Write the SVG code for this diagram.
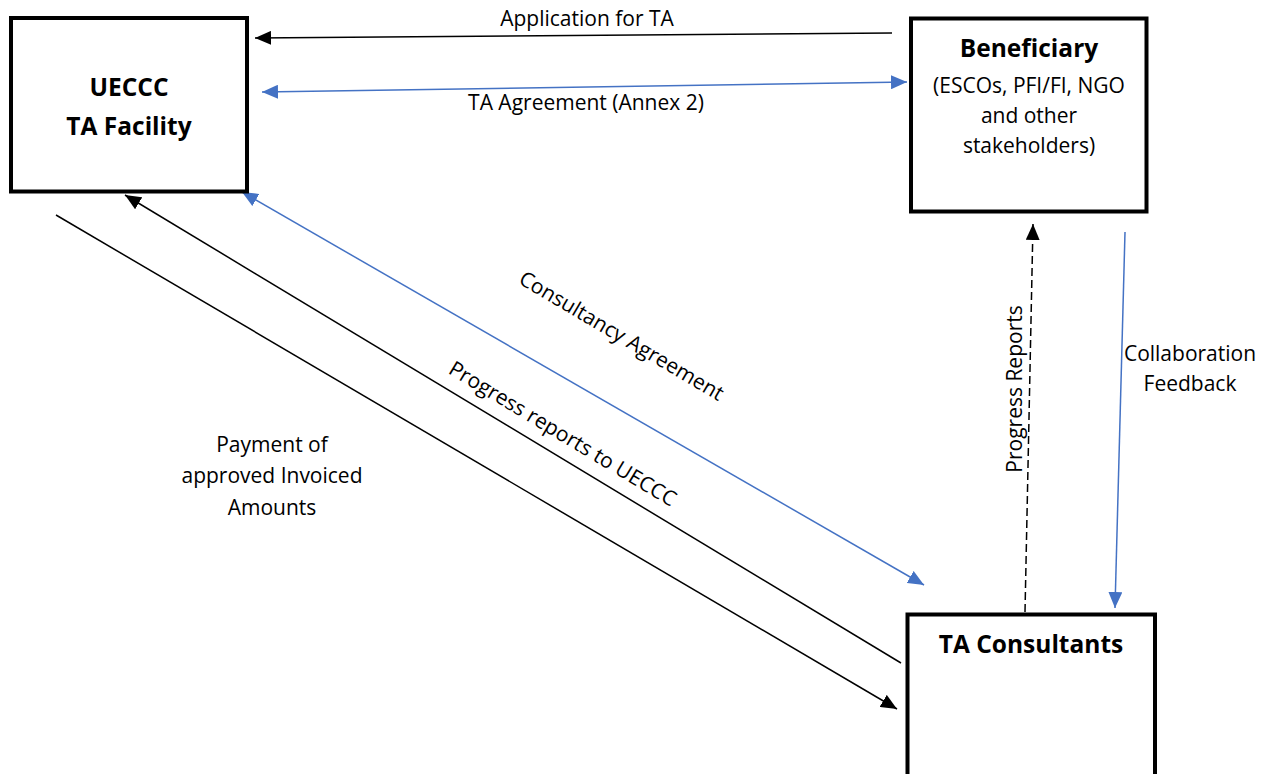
<svg xmlns="http://www.w3.org/2000/svg" width="1269" height="774" viewBox="0 0 1269 774">
<style>
.box{fill:#fff;stroke:#000;stroke-width:4}
.title{font-family:"Open Sans","Liberation Sans",sans-serif;font-weight:bold;font-size:24.5px;fill:#000;text-anchor:middle}
.lbl{font-family:"Open Sans","Liberation Sans",sans-serif;font-size:21px;fill:#000;text-anchor:middle}
.k{fill:none;stroke:#000;stroke-width:1.5}
.b{fill:none;stroke:#4472C4;stroke-width:1.5}
</style>
<defs>
<marker id="ak" viewBox="0 0 16 14" refX="16" refY="7" markerWidth="16" markerHeight="14" markerUnits="userSpaceOnUse" orient="auto-start-reverse"><path d="M0,0 L16,7 L0,14 Z" fill="#000"/></marker>
<marker id="ab" viewBox="0 0 16 14" refX="16" refY="7" markerWidth="16" markerHeight="14" markerUnits="userSpaceOnUse" orient="auto-start-reverse"><path d="M0,0 L16,7 L0,14 Z" fill="#4472C4"/></marker>
</defs>
<rect width="1269" height="774" fill="#fff"/>
<g id="connectors">
<line class="k" x1="892" y1="33" x2="255" y2="38" marker-end="url(#ak)"/>
<line class="b" x1="262" y1="92" x2="907" y2="82" marker-start="url(#ab)" marker-end="url(#ab)"/>
<line class="b" x1="242" y1="192" x2="924" y2="585" marker-start="url(#ab)" marker-end="url(#ab)"/>
<line class="k" x1="901" y1="663" x2="125" y2="195" marker-end="url(#ak)"/>
<line class="k" x1="56" y1="215" x2="897" y2="709" marker-end="url(#ak)"/>
<line class="k" x1="1025" y1="612" x2="1033" y2="224" stroke-dasharray="8,4" marker-end="url(#ak)"/>
<line class="b" x1="1125" y1="232" x2="1115" y2="608" marker-end="url(#ab)"/>
<text class="lbl" x="587" y="26">Application for TA</text>
<text class="lbl" x="586" y="110">TA Agreement (Annex 2)</text>
<text class="lbl" transform="translate(618,342) rotate(30.5)">Consultancy Agreement</text>
<text class="lbl" transform="translate(559,440) rotate(31)">Progress reports to UECCC</text>
<text class="lbl" transform="translate(1022,389) rotate(-90)">Progress Reports</text>
<text class="lbl" x="1190" y="361">Collaboration</text>
<text class="lbl" x="1190" y="391">Feedback</text>
<text class="lbl" x="272" y="452">Payment of</text>
<text class="lbl" x="272" y="483">approved Invoiced</text>
<text class="lbl" x="272" y="515">Amounts</text>
</g>
<g id="uecc">
<rect class="box" x="11" y="18" width="236" height="173.5"/>
<text class="title" x="129" y="96">UECCC</text>
<text class="title" x="129" y="135">TA Facility</text>
</g>
<g id="beneficiary">
<rect class="box" x="911" y="18.5" width="235.5" height="193"/>
<text class="title" x="1029" y="57">Beneficiary</text>
<text class="lbl" x="1029" y="93">(ESCOs, PFI/FI, NGO</text>
<text class="lbl" x="1029" y="123">and other</text>
<text class="lbl" x="1029" y="153">stakeholders)</text>
</g>
<g id="consultants">
<rect class="box" x="907.5" y="614.5" width="247.5" height="175"/>
<text class="title" x="1031" y="653">TA Consultants</text>
</g>
</svg>
